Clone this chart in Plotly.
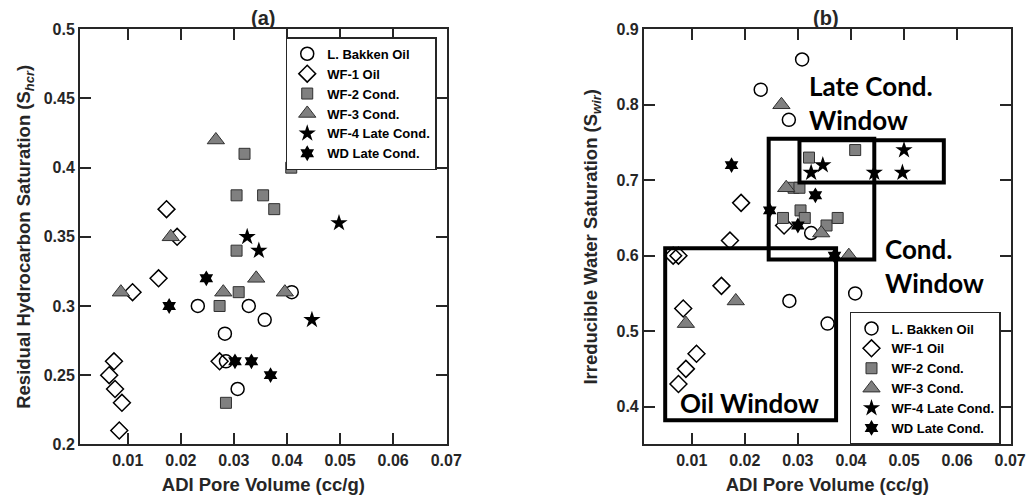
import plotly.graph_objects as go

# ---- Panel (a): residual hydrocarbon saturation vs ADI pore volume ----
bakken_pv_a = [0.0232, 0.0328, 0.0409, 0.0358, 0.0283, 0.0285, 0.0307]
bakken_shcr = [0.30, 0.30, 0.31, 0.29, 0.28, 0.26, 0.24]
wf1_pv_a = [0.0173, 0.0193, 0.0158, 0.0109, 0.0273, 0.0074, 0.0065, 0.0076, 0.0089, 0.0084]
wf1_shcr = [0.37, 0.35, 0.32, 0.31, 0.26, 0.26, 0.25, 0.24, 0.23, 0.21]
wf2_pv_a = [0.0320, 0.0408, 0.0305, 0.0355, 0.0376, 0.0305, 0.0309, 0.0273, 0.0285]
wf2_shcr = [0.41, 0.40, 0.38, 0.38, 0.37, 0.34, 0.31, 0.30, 0.23]
wf3_pv_a = [0.0266, 0.0181, 0.0087, 0.0280, 0.0342, 0.0396]
wf3_shcr = [0.42, 0.35, 0.31, 0.31, 0.32, 0.31]
wf4_pv_a = [0.0498, 0.0325, 0.0347, 0.0447]
wf4_shcr = [0.36, 0.35, 0.34, 0.29]
wd_pv_a = [0.0248, 0.0178, 0.0302, 0.0333, 0.0369]
wd_shcr = [0.32, 0.30, 0.26, 0.26, 0.25]

# ---- Panel (b): irreducible water saturation vs ADI pore volume ----
bakken_pv_b = [0.0308, 0.0230, 0.0283, 0.0325, 0.0284, 0.0408, 0.0356]
bakken_swir = [0.86, 0.82, 0.78, 0.63, 0.54, 0.55, 0.51]
wf1_pv_b = [0.0193, 0.0172, 0.0065, 0.0075, 0.0274, 0.0156, 0.0084, 0.0109, 0.0089, 0.0075]
wf1_swir = [0.67, 0.62, 0.60, 0.60, 0.64, 0.56, 0.53, 0.47, 0.45, 0.43]
wf2_pv_b = [0.0408, 0.0321, 0.0292, 0.0303, 0.0305, 0.0272, 0.0313, 0.0354, 0.0375]
wf2_swir = [0.74, 0.73, 0.69, 0.69, 0.66, 0.65, 0.65, 0.64, 0.65]
wf3_pv_b = [0.0269, 0.0278, 0.0344, 0.0396, 0.0183, 0.0089]
wf3_swir = [0.80, 0.69, 0.63, 0.60, 0.54, 0.51]
wf4_pv_b = [0.0500, 0.0497, 0.0444, 0.0347, 0.0325]
wf4_swir = [0.74, 0.71, 0.71, 0.72, 0.71]
wd_pv_b = [0.0175, 0.0333, 0.0247, 0.0300, 0.0369]
wd_swir = [0.72, 0.68, 0.66, 0.64, 0.60]

series_names = ["L. Bakken Oil", "WF-1 Oil", "WF-2 Cond.", "WF-3 Cond.",
                "WF-4 Late Cond.", "WD Late Cond."]

x_tick_vals = [0.01, 0.02, 0.03, 0.04, 0.05, 0.06, 0.07]
x_tick_text = ["0.01", "0.02", "0.03", "0.04", "0.05", "0.06", "0.07"]
ya_tick_vals = [0.2, 0.25, 0.3, 0.35, 0.4, 0.45, 0.5]
ya_tick_text = ["0.2", "0.25", "0.3", "0.35", "0.4", "0.45", "0.5"]
yb_tick_vals = [0.4, 0.5, 0.6, 0.7, 0.8, 0.9]
yb_tick_text = ["0.4", "0.5", "0.6", "0.7", "0.8", "0.9"]

INK = "#262626"
GRAY = "#808080"
FONT = "Liberation Sans"

marker_styles = [
    dict(symbol="circle-open", size=13, color="black", line=dict(color="black", width=1.5)),
    dict(symbol="diamond-open", size=13, color="black", line=dict(color="black", width=1.5)),
    dict(symbol="square", size=11, color=GRAY, line=dict(color="#303030", width=1)),
    dict(symbol="triangle-up", size=15, color=GRAY, line=dict(color="#303030", width=1)),
    dict(symbol="star", size=13, color="black", line=dict(color="black", width=0)),
    dict(symbol="hexagram", size=12, color="black", line=dict(color="black", width=0)),
]

panel_a = [(bakken_pv_a, bakken_shcr), (wf1_pv_a, wf1_shcr), (wf2_pv_a, wf2_shcr),
           (wf3_pv_a, wf3_shcr), (wf4_pv_a, wf4_shcr), (wd_pv_a, wd_shcr)]
panel_b = [(bakken_pv_b, bakken_swir), (wf1_pv_b, wf1_swir), (wf2_pv_b, wf2_swir),
           (wf3_pv_b, wf3_swir), (wf4_pv_b, wf4_swir), (wd_pv_b, wd_swir)]

fig = go.Figure()

for name, style, (xs, ys) in zip(series_names, marker_styles, panel_a):
    fig.add_trace(go.Scatter(x=xs, y=ys, mode="markers", name=name, marker=style,
                             xaxis="x", yaxis="y", legend="legend"))
for name, style, (xs, ys) in zip(series_names, marker_styles, panel_b):
    fig.add_trace(go.Scatter(x=xs, y=ys, mode="markers", name=name, marker=style,
                             xaxis="x2", yaxis="y2", legend="legend2"))

axis_common = dict(
    automargin=False,
    showline=True, linecolor=INK, linewidth=2, mirror="ticks",
    ticks="inside", ticklen=11, tickwidth=1.5, tickcolor=INK,
    showgrid=False, zeroline=False,
    tickfont=dict(family=FONT, size=16, color=INK, weight="bold"),
)
title_font = dict(family=FONT, size=18.5, color=INK, weight="bold")

xa = dict(axis_common, range=[0.001, 0.0701], tickvals=x_tick_vals, ticktext=x_tick_text,
          title=dict(text="ADI Pore Volume (cc/g)", font=title_font, standoff=11))

legend_common = dict(xanchor="right", yanchor="top", bgcolor="white",
                     bordercolor=INK, borderwidth=1.5, tracegroupgap=0, itemwidth=30,
                     font=dict(family=FONT, size=13, color="black", weight="bold"))

fig.update_layout(
    template="none",
    width=1031, height=502,
    autosize=False,
    margin=dict(l=0, r=0, t=0, b=0, pad=0),
    paper_bgcolor="white", plot_bgcolor="white",
    font=dict(family=FONT, color=INK),
    showlegend=True,
    xaxis=dict(xa, domain=[0.0776, 0.4333], anchor="y"),
    yaxis=dict(axis_common, domain=[0.1149, 0.9416], anchor="x", range=[0.2, 0.5],
               tickvals=ya_tick_vals, ticktext=ya_tick_text,
               title=dict(text="Residual Hydrocarbon Saturation (S<sub><i>hcr</i></sub>)",
                          font=title_font, standoff=8)),
    xaxis2=dict(xa, domain=[0.6246, 0.9803], anchor="y2"),
    yaxis2=dict(axis_common, domain=[0.1149, 0.9416], anchor="x2", range=[0.35, 0.9],
                tickvals=yb_tick_vals, ticktext=yb_tick_text,
                title=dict(text="Irreducible Water Saturation (S<sub><i>wir</i></sub>)",
                           font=title_font, standoff=14)),
    legend=dict(legend_common, x=0.4236, y=0.9257),
    legend2=dict(legend_common, x=0.9709, y=0.3785),
)

# Panel labels
for label, xc in [("(a)", 0.2553), ("(b)", 0.8009)]:
    fig.add_annotation(text=label, x=xc, y=0.964, xref="paper", yref="paper",
                       xanchor="center", yanchor="middle", showarrow=False,
                       font=dict(family=FONT, size=20, color=INK, weight="bold"))

# Maturity windows on panel (b)
windows = [
    (0.0050, 0.0372, 0.382, 0.610),   # oil window
    (0.0245, 0.0444, 0.595, 0.755),   # condensate window
    (0.0303, 0.0575, 0.697, 0.753),   # late condensate window
]
for x0, x1, y0, y1 in windows:
    fig.add_shape(type="rect", xref="x2", yref="y2", x0=x0, x1=x1, y0=y0, y1=y1,
                  line=dict(color="black", width=4), fillcolor="rgba(0,0,0,0)", layer="above")

window_font = dict(family="Lato", size=26, color="black", weight="bold")
for text, xv, yv in [("Late Cond.<br>Window", 0.0318, 0.802),
                     ("Cond.<br>Window", 0.0460, 0.5865),
                     ("Oil Window", 0.0075, 0.405)]:
    fig.add_annotation(text=text, x=xv, y=yv, xref="x2", yref="y2", xanchor="left",
                       yanchor="middle", align="left", showarrow=False, font=window_font)

fig.write_html("out.html")
